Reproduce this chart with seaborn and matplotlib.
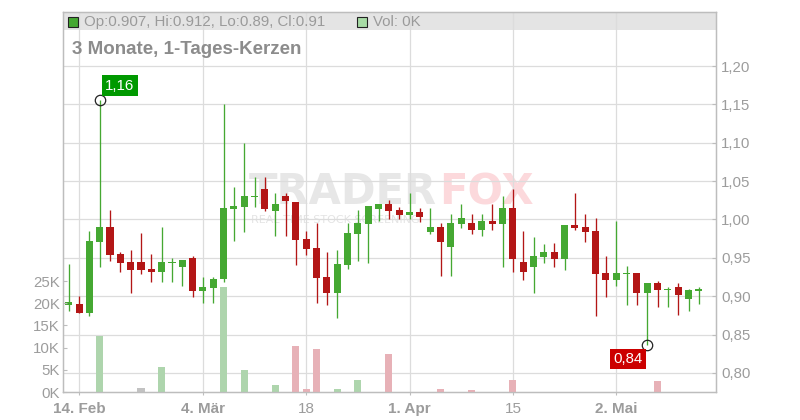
import numpy as np
import pandas as pd
import matplotlib
matplotlib.use("Agg")
import matplotlib.pyplot as plt
import seaborn as sns
from matplotlib.patches import Rectangle

# ---------------- data ----------------
opens = [0.889, 0.890, 0.8786, 0.971, 0.990, 0.955, 0.9446, 0.9446, 0.9355, 0.932,
         0.9433, 0.9385, 0.9498, 0.9072, 0.911, 0.922, 1.0135, 1.0167, 1.029, 1.0397,
         1.0115, 1.0306, 1.0228, 0.9746, 0.9629, 0.925, 0.9046, 0.9411, 0.9815, 0.9945,
         1.0141, 1.0202, 1.0124, 1.0063, 1.0098, 0.984, 0.990, 0.9646, 0.9945, 0.9954,
         0.9867, 0.998, 0.9945, 1.015, 0.9446, 0.9385, 0.9515, 0.9577, 0.9486, 0.9928,
         0.990, 0.985, 0.9303, 0.9216, 0.9294, 0.9303, 0.9046, 0.9173, 0.9090, 0.9124,
         0.8968, 0.907]
highs = [0.942, 0.900, 0.985, 1.156, 1.0124, 0.9577, 0.960, 0.9824, 0.955, 0.990,
         0.950, 0.9475, 0.9524, 0.9247, 0.9247, 1.150, 1.0425, 1.0993, 1.0558, 1.0558,
         1.0349, 1.0349, 1.0228, 0.985, 0.9958, 0.9577, 0.9603, 0.9958, 1.0124, 1.0176,
         1.0205, 1.0254, 1.0167, 1.0349, 1.015, 1.015, 0.9954, 1.0072, 1.0206, 1.0072,
         1.0072, 1.0206, 1.031, 1.0397, 0.985, 0.9772, 0.968, 0.9694, 0.993, 1.0349,
         1.0076, 1.002, 0.9524, 0.9984, 0.9394, 0.9303, 0.9173, 0.9199, 0.9117, 0.9173,
         0.9098, 0.912]
lows = [0.881, 0.8786, 0.8747, 0.9385, 0.9463, 0.932, 0.9046, 0.9294, 0.9186, 0.9186,
        0.9186, 0.9134, 0.8994, 0.8916, 0.8916, 0.919, 0.9719, 0.984, 1.0167, 1.0115,
        0.9789, 0.9789, 0.9411, 0.954, 0.8916, 0.889, 0.872, 0.935, 0.9463, 0.9437,
        0.9984, 1.0007, 1.001, 1.001, 0.9971, 0.9815, 0.9264, 0.9264, 0.9893, 0.9815,
        0.9789, 0.9867, 0.9385, 0.9316, 0.9212, 0.9042, 0.9437, 0.9381, 0.9342, 0.9863,
        0.971, 0.8747, 0.8994, 0.9137, 0.8886, 0.8886, 0.836, 0.886, 0.886, 0.8756,
        0.8808, 0.890]
closes = [0.8925, 0.8786, 0.972, 0.990, 0.954, 0.9437, 0.9346, 0.9346, 0.932, 0.9446,
          0.944, 0.9472, 0.9072, 0.912, 0.922, 1.015, 1.017, 1.0306, 1.030, 1.0141,
          1.0202, 1.0245, 0.9737, 0.962, 0.9242, 0.9046, 0.942, 0.9824, 0.9954, 1.0176,
          1.0202, 1.0115, 1.0063, 1.0098, 1.0037, 0.990, 0.971, 0.9954, 1.002, 0.9867,
          0.998, 0.9945, 1.015, 0.9489, 0.932, 0.9524, 0.9577, 0.9486, 0.9928, 0.9893,
          0.984, 0.9294, 0.9216, 0.9303, 0.9303, 0.9046, 0.9173, 0.9081, 0.9094, 0.902,
          0.9081, 0.910]
volumes = [0, 0, 0, 12600, 0, 0, 0, 1000, 0, 5600,
           0, 0, 0, 0, 0, 23700, 0, 4900, 0, 0,
           1600, 0, 10300, 700, 9600, 0, 700, 0, 2700, 0,
           0, 8500, 0, 0, 0, 0, 700, 0, 0, 400,
           0, 0, 0, 2700, 0, 0, 0, 0, 0, 0,
           0, 0, 0, 0, 0, 0, 0, 2500, 0, 0,
           0, 0]

tick_pos = [1, 13, 23, 33, 43, 53]
tick_labels = ["14. Feb", "4. Mär", "18", "1. Apr", "15", "2. Mai"]
tick_bold = [True, True, False, True, False, True]
price_ticks = [0.80, 0.85, 0.90, 0.95, 1.00, 1.05, 1.10, 1.15, 1.20]
vol_ticks = [0, 5000, 10000, 15000, 20000, 25000]

title = "3 Monate, 1-Tages-Kerzen"

# ---------------- style ----------------
GREEN = "#45a832"
RED = "#b31616"
VOL_COLORS = {"up": "#a8dca6", "down": "#f0a8b0", "flat": "#c2c2c2"}
GRID = "#dcdcdc"
SPINE = "#bdbdbd"
LABEL = "#9c9c9c"

sns.set_theme(style="white")
plt.rcParams["font.family"] = ["Liberation Sans", "DejaVu Sans"]

o = np.array(opens); h = np.array(highs); l = np.array(lows); c = np.array(closes)
idx = np.arange(len(opens))
vol = np.array(volumes, dtype=float)

prev = np.concatenate([[c[0]], c[:-1]])
d = np.round(c - prev, 4)
vol_dir = np.where(d > 0, "up", np.where(d < 0, "down", "flat"))

fig = plt.figure(figsize=(8, 4.2), dpi=100)
ax = fig.add_axes([63 / 800, 28 / 420, 653 / 800, 380 / 420])
ax_vol = ax.twinx()

# price axis (main, drawn below)
ax.set_facecolor("white")
ax.set_axisbelow(True)
ax.grid(True, color=GRID, linewidth=0.9)

# header band
ax.add_patch(Rectangle((0, 0.9526), 1, 0.0474, transform=ax.transAxes,
                       facecolor="#e4e4e4", edgecolor="none", zorder=0.2))

# watermark
ax.text(0.5727, 0.526, "TRADER", transform=ax.transAxes, ha="right", va="center",
        fontsize=30, fontweight="bold", color="#e7e7e7", family="DejaVu Sans", zorder=0.4)
ax.text(0.5760, 0.526, "FOX", transform=ax.transAxes, ha="left", va="center",
        fontsize=30, fontweight="bold", color="#fcd9dc", family="DejaVu Sans", zorder=0.4)
ax.text(0.4165, 0.4526, "REAL TIME STOCK SCREENING", transform=ax.transAxes,
        ha="center", va="center", fontsize=8, color="#e4e4e4",
        family="DejaVu Sans", zorder=0.4)

up = c >= o
ccol = np.where(up, GREEN, RED)
body_h = np.maximum(np.abs(c - o), 0.0016)
body_b = (o + c) / 2 - body_h / 2
ax.vlines(idx, l, h, colors=ccol, linewidth=0.95, zorder=2)
ax.bar(idx, body_h, bottom=body_b, width=0.68, color=ccol, linewidth=0, zorder=3)

# max / min markers
imax = int(np.argmax(h)); imin = int(np.argmin(l))
ax.plot([imax], [h[imax]], marker="o", ms=7.5, mfc="none", mec="#222222", mew=0.9, zorder=5)
ax.plot([imin], [l[imin]], marker="o", ms=7.5, mfc="none", mec="#222222", mew=0.9, zorder=5)
ax.annotate(f"{h[imax]:.2f}".replace(".", ","), (imax, h[imax]), xytext=(20, 14),
            textcoords="offset pixels", ha="center", va="center", fontsize=10.8,
            color="white", zorder=6,
            bbox=dict(boxstyle="square,pad=0.22", fc="#009900", ec="none"))
ax.annotate(f"{l[imin]:.2f}".replace(".", ","), (imin, l[imin]), xytext=(-19.5, -13.7),
            textcoords="offset pixels", ha="center", va="center", fontsize=10.8,
            color="white", zorder=6,
            bbox=dict(boxstyle="square,pad=0.22", fc="#cc0000", ec="none"))

# volume (seaborn)
df_vol = pd.DataFrame({"idx": idx, "vol": vol, "dir": vol_dir})
sns.barplot(data=df_vol, x="idx", y="vol", hue="dir", palette=VOL_COLORS,
            hue_order=["up", "down", "flat"], native_scale=True, dodge=False,
            width=0.68, linewidth=0, errorbar=None, legend=False, ax=ax_vol)
ax_vol.set_xlabel(""); ax_vol.set_ylabel("")

# limits
ax.set_xlim(-0.55, 62.66)
ax.set_ylim(0.7752, 1.2704)
ax_vol.set_ylim(0, 85600)

# price ticks on right
ax.yaxis.tick_right()
ax.set_yticks(price_ticks)
ax.set_yticklabels([f"{p:.2f}".replace(".", ",") for p in price_ticks])
ax.tick_params(axis="y", which="both", direction="in", length=3, width=0.8,
               color=SPINE, pad=3.6, labelsize=10.8, labelcolor=LABEL,
               right=True, left=False, labelright=True, labelleft=False)

# volume ticks on left
ax_vol.yaxis.tick_left()
ax_vol.set_yticks(vol_ticks)
ax_vol.set_yticklabels([f"{v // 1000}K" for v in vol_ticks])
ax_vol.tick_params(axis="y", which="both", direction="in", length=3, width=0.8,
                   color=SPINE, pad=2.4, labelsize=10.8, labelcolor=LABEL,
                   left=True, right=False, labelleft=True, labelright=False)
ax_vol.grid(False)

# x ticks
ax.set_xticks(tick_pos)
ax.set_xticklabels(tick_labels)
ax.tick_params(axis="x", direction="out", length=2.5, width=0.8, color=SPINE,
               pad=4.5, labelsize=11, labelcolor=LABEL, bottom=True)
for lab, b in zip(ax.get_xticklabels(), tick_bold):
    lab.set_fontweight("bold" if b else "normal")

for a in (ax, ax_vol):
    for s in a.spines.values():
        s.set_color(SPINE)
        s.set_linewidth(0.9)
        s.set_visible(True)

# header texts
last = len(opens) - 1
hdr = f"Op:{o[last]:g}, Hi:{h[last]:g}, Lo:{l[last]:g}, Cl:{c[last]:g}"
ax.plot([0.0153], [0.974], marker="s", ms=7, mfc=GREEN, mec="#222222", mew=0.8,
        transform=ax.transAxes, clip_on=False, zorder=6)
ax.text(0.0322, 0.973, hdr, transform=ax.transAxes, ha="left", va="center",
        fontsize=10.8, color="#9a9a9a", zorder=6)
ax.plot([0.458], [0.974], marker="s", ms=7, mfc=VOL_COLORS["up"], mec="#222222", mew=0.8,
        transform=ax.transAxes, clip_on=False, zorder=6)
ax.text(0.4747, 0.973, f"Vol: {vol[last] / 1000:.0f}K", transform=ax.transAxes,
        ha="left", va="center", fontsize=10.8, color="#9a9a9a", zorder=6)

ax.text(0.0138, 0.901, title, transform=ax.transAxes, ha="left", va="center",
        fontsize=13.5, fontweight="bold", color="#8c8c8c", zorder=6)

fig.savefig("out.png", dpi=100)
